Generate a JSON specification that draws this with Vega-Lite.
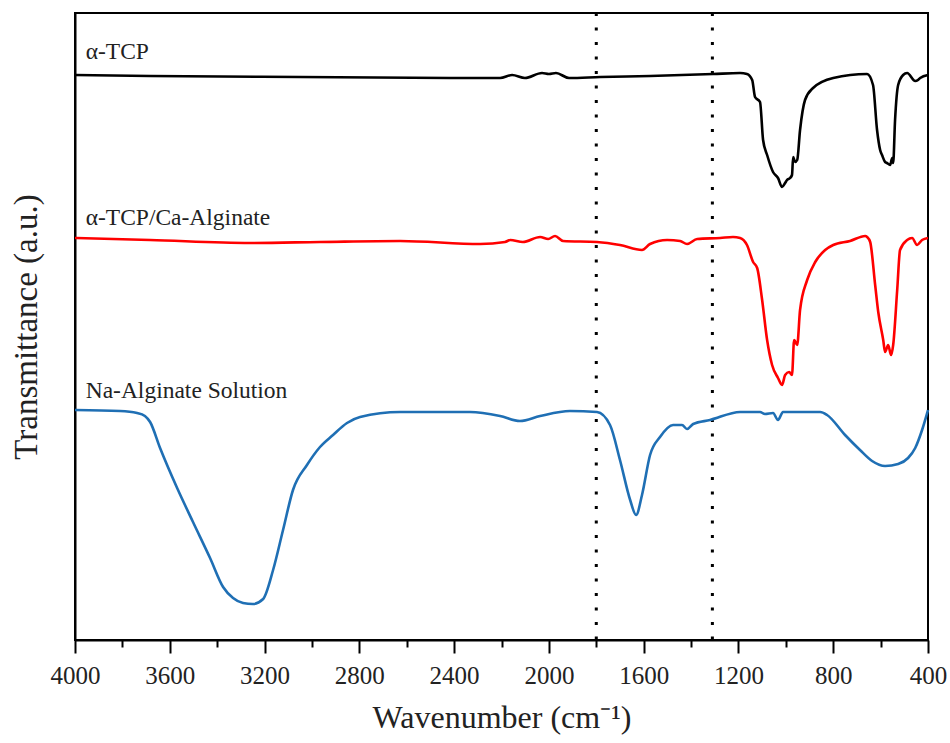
{
  "$schema": "https://vega.github.io/schema/vega-lite/v6.json",
  "width": 853,
  "height": 627,
  "autosize": "none",
  "padding": {"left": 75, "top": 13, "right": 22, "bottom": 103},
  "background": "white",
  "config": {
    "view": {"stroke": "#000", "strokeWidth": 2},
    "axis": {"domainColor": "#000", "domainWidth": 2, "tickColor": "#000", "tickWidth": 2, "grid": false, "labelFont": "Liberation Serif", "titleFont": "Liberation Serif", "labelColor": "#222", "titleColor": "#222", "titleFontWeight": "normal"}
  },
  "resolve": {"axis": {"x": "independent"}},
  "datasets": {
    "curves": [
      {"s": "α-TCP", "w": 4000, "t": 565},
      {"s": "α-TCP", "w": 3683, "t": 564},
      {"s": "α-TCP", "w": 3050, "t": 563},
      {"s": "α-TCP", "w": 2417, "t": 562},
      {"s": "α-TCP", "w": 2206, "t": 562},
      {"s": "α-TCP", "w": 2155, "t": 565},
      {"s": "α-TCP", "w": 2101, "t": 562},
      {"s": "α-TCP", "w": 2029, "t": 567},
      {"s": "α-TCP", "w": 2000, "t": 566},
      {"s": "α-TCP", "w": 1970, "t": 567},
      {"s": "α-TCP", "w": 1915, "t": 562},
      {"s": "α-TCP", "w": 1784, "t": 563},
      {"s": "α-TCP", "w": 1573, "t": 564},
      {"s": "α-TCP", "w": 1307, "t": 566},
      {"s": "α-TCP", "w": 1193, "t": 567},
      {"s": "α-TCP", "w": 1164, "t": 566},
      {"s": "α-TCP", "w": 1142, "t": 560},
      {"s": "α-TCP", "w": 1130, "t": 543},
      {"s": "α-TCP", "w": 1109, "t": 538},
      {"s": "α-TCP", "w": 1096, "t": 500},
      {"s": "α-TCP", "w": 1079, "t": 485},
      {"s": "α-TCP", "w": 1054, "t": 468},
      {"s": "α-TCP", "w": 1033, "t": 462},
      {"s": "α-TCP", "w": 1016, "t": 453},
      {"s": "α-TCP", "w": 1003, "t": 457},
      {"s": "α-TCP", "w": 995, "t": 460},
      {"s": "α-TCP", "w": 982, "t": 462},
      {"s": "α-TCP", "w": 974, "t": 465},
      {"s": "α-TCP", "w": 969, "t": 483},
      {"s": "α-TCP", "w": 961, "t": 478},
      {"s": "α-TCP", "w": 952, "t": 480},
      {"s": "α-TCP", "w": 940, "t": 510},
      {"s": "α-TCP", "w": 919, "t": 540},
      {"s": "α-TCP", "w": 885, "t": 552},
      {"s": "α-TCP", "w": 800, "t": 562},
      {"s": "α-TCP", "w": 657, "t": 566},
      {"s": "α-TCP", "w": 632, "t": 555},
      {"s": "α-TCP", "w": 615, "t": 510},
      {"s": "α-TCP", "w": 602, "t": 490},
      {"s": "α-TCP", "w": 594, "t": 485},
      {"s": "α-TCP", "w": 581, "t": 478},
      {"s": "α-TCP", "w": 573, "t": 477},
      {"s": "α-TCP", "w": 560, "t": 475},
      {"s": "α-TCP", "w": 551, "t": 482},
      {"s": "α-TCP", "w": 547, "t": 477},
      {"s": "α-TCP", "w": 539, "t": 520},
      {"s": "α-TCP", "w": 526, "t": 555},
      {"s": "α-TCP", "w": 505, "t": 565},
      {"s": "α-TCP", "w": 488, "t": 567},
      {"s": "α-TCP", "w": 454, "t": 559},
      {"s": "α-TCP", "w": 442, "t": 560},
      {"s": "α-TCP", "w": 433, "t": 562},
      {"s": "α-TCP", "w": 400, "t": 565},

      {"s": "α-TCP/Ca-Alginate", "w": 4000, "t": 402},
      {"s": "α-TCP/Ca-Alginate", "w": 3683, "t": 400},
      {"s": "α-TCP/Ca-Alginate", "w": 3261, "t": 397},
      {"s": "α-TCP/Ca-Alginate", "w": 2966, "t": 398},
      {"s": "α-TCP/Ca-Alginate", "w": 2628, "t": 399},
      {"s": "α-TCP/Ca-Alginate", "w": 2290, "t": 396},
      {"s": "α-TCP/Ca-Alginate", "w": 2185, "t": 398},
      {"s": "α-TCP/Ca-Alginate", "w": 2163, "t": 400},
      {"s": "α-TCP/Ca-Alginate", "w": 2110, "t": 398},
      {"s": "α-TCP/Ca-Alginate", "w": 2037, "t": 403},
      {"s": "α-TCP/Ca-Alginate", "w": 2003, "t": 401},
      {"s": "α-TCP/Ca-Alginate", "w": 1974, "t": 404},
      {"s": "α-TCP/Ca-Alginate", "w": 1940, "t": 399},
      {"s": "α-TCP/Ca-Alginate", "w": 1797, "t": 398},
      {"s": "α-TCP/Ca-Alginate", "w": 1700, "t": 395},
      {"s": "α-TCP/Ca-Alginate", "w": 1607, "t": 390},
      {"s": "α-TCP/Ca-Alginate", "w": 1573, "t": 396},
      {"s": "α-TCP/Ca-Alginate", "w": 1501, "t": 400},
      {"s": "α-TCP/Ca-Alginate", "w": 1446, "t": 399},
      {"s": "α-TCP/Ca-Alginate", "w": 1417, "t": 396},
      {"s": "α-TCP/Ca-Alginate", "w": 1374, "t": 401},
      {"s": "α-TCP/Ca-Alginate", "w": 1277, "t": 402},
      {"s": "α-TCP/Ca-Alginate", "w": 1223, "t": 403},
      {"s": "α-TCP/Ca-Alginate", "w": 1193, "t": 402},
      {"s": "α-TCP/Ca-Alginate", "w": 1164, "t": 395},
      {"s": "α-TCP/Ca-Alginate", "w": 1138, "t": 378},
      {"s": "α-TCP/Ca-Alginate", "w": 1121, "t": 372},
      {"s": "α-TCP/Ca-Alginate", "w": 1100, "t": 340},
      {"s": "α-TCP/Ca-Alginate", "w": 1079, "t": 300},
      {"s": "α-TCP/Ca-Alginate", "w": 1058, "t": 275},
      {"s": "α-TCP/Ca-Alginate", "w": 1033, "t": 262},
      {"s": "α-TCP/Ca-Alginate", "w": 1016, "t": 255},
      {"s": "α-TCP/Ca-Alginate", "w": 1003, "t": 265},
      {"s": "α-TCP/Ca-Alginate", "w": 986, "t": 268},
      {"s": "α-TCP/Ca-Alginate", "w": 974, "t": 265},
      {"s": "α-TCP/Ca-Alginate", "w": 965, "t": 300},
      {"s": "α-TCP/Ca-Alginate", "w": 952, "t": 295},
      {"s": "α-TCP/Ca-Alginate", "w": 940, "t": 330},
      {"s": "α-TCP/Ca-Alginate", "w": 910, "t": 360},
      {"s": "α-TCP/Ca-Alginate", "w": 876, "t": 378},
      {"s": "α-TCP/Ca-Alginate", "w": 834, "t": 390},
      {"s": "α-TCP/Ca-Alginate", "w": 800, "t": 395},
      {"s": "α-TCP/Ca-Alginate", "w": 729, "t": 399},
      {"s": "α-TCP/Ca-Alginate", "w": 665, "t": 404},
      {"s": "α-TCP/Ca-Alginate", "w": 657, "t": 403},
      {"s": "α-TCP/Ca-Alginate", "w": 644, "t": 398},
      {"s": "α-TCP/Ca-Alginate", "w": 623, "t": 355},
      {"s": "α-TCP/Ca-Alginate", "w": 610, "t": 328},
      {"s": "α-TCP/Ca-Alginate", "w": 589, "t": 300},
      {"s": "α-TCP/Ca-Alginate", "w": 581, "t": 288},
      {"s": "α-TCP/Ca-Alginate", "w": 568, "t": 295},
      {"s": "α-TCP/Ca-Alginate", "w": 556, "t": 285},
      {"s": "α-TCP/Ca-Alginate", "w": 547, "t": 295},
      {"s": "α-TCP/Ca-Alginate", "w": 530, "t": 350},
      {"s": "α-TCP/Ca-Alginate", "w": 518, "t": 390},
      {"s": "α-TCP/Ca-Alginate", "w": 488, "t": 400},
      {"s": "α-TCP/Ca-Alginate", "w": 467, "t": 402},
      {"s": "α-TCP/Ca-Alginate", "w": 446, "t": 395},
      {"s": "α-TCP/Ca-Alginate", "w": 425, "t": 400},
      {"s": "α-TCP/Ca-Alginate", "w": 400, "t": 402},

      {"s": "Na-Alginate Solution", "w": 4000, "t": 230},
      {"s": "Na-Alginate Solution", "w": 3810, "t": 229},
      {"s": "Na-Alginate Solution", "w": 3738, "t": 227},
      {"s": "Na-Alginate Solution", "w": 3705, "t": 224},
      {"s": "Na-Alginate Solution", "w": 3683, "t": 218},
      {"s": "Na-Alginate Solution", "w": 3641, "t": 192},
      {"s": "Na-Alginate Solution", "w": 3569, "t": 152},
      {"s": "Na-Alginate Solution", "w": 3502, "t": 118},
      {"s": "Na-Alginate Solution", "w": 3430, "t": 82},
      {"s": "Na-Alginate Solution", "w": 3375, "t": 53},
      {"s": "Na-Alginate Solution", "w": 3333, "t": 42},
      {"s": "Na-Alginate Solution", "w": 3291, "t": 37},
      {"s": "Na-Alginate Solution", "w": 3249, "t": 36},
      {"s": "Na-Alginate Solution", "w": 3206, "t": 41},
      {"s": "Na-Alginate Solution", "w": 3164, "t": 70},
      {"s": "Na-Alginate Solution", "w": 3122, "t": 110},
      {"s": "Na-Alginate Solution", "w": 3080, "t": 150},
      {"s": "Na-Alginate Solution", "w": 3021, "t": 175},
      {"s": "Na-Alginate Solution", "w": 2966, "t": 193},
      {"s": "Na-Alginate Solution", "w": 2911, "t": 205},
      {"s": "Na-Alginate Solution", "w": 2852, "t": 217},
      {"s": "Na-Alginate Solution", "w": 2797, "t": 223},
      {"s": "Na-Alginate Solution", "w": 2628, "t": 228},
      {"s": "Na-Alginate Solution", "w": 2333, "t": 228},
      {"s": "Na-Alginate Solution", "w": 2206, "t": 224},
      {"s": "Na-Alginate Solution", "w": 2122, "t": 219},
      {"s": "Na-Alginate Solution", "w": 2037, "t": 224},
      {"s": "Na-Alginate Solution", "w": 1911, "t": 229},
      {"s": "Na-Alginate Solution", "w": 1797, "t": 228},
      {"s": "Na-Alginate Solution", "w": 1742, "t": 215},
      {"s": "Na-Alginate Solution", "w": 1700, "t": 180},
      {"s": "Na-Alginate Solution", "w": 1657, "t": 140},
      {"s": "Na-Alginate Solution", "w": 1632, "t": 125},
      {"s": "Na-Alginate Solution", "w": 1607, "t": 145},
      {"s": "Na-Alginate Solution", "w": 1573, "t": 185},
      {"s": "Na-Alginate Solution", "w": 1531, "t": 203},
      {"s": "Na-Alginate Solution", "w": 1476, "t": 215},
      {"s": "Na-Alginate Solution", "w": 1438, "t": 215},
      {"s": "Na-Alginate Solution", "w": 1417, "t": 211},
      {"s": "Na-Alginate Solution", "w": 1391, "t": 216},
      {"s": "Na-Alginate Solution", "w": 1320, "t": 220},
      {"s": "Na-Alginate Solution", "w": 1193, "t": 228},
      {"s": "Na-Alginate Solution", "w": 1109, "t": 228},
      {"s": "Na-Alginate Solution", "w": 1088, "t": 226},
      {"s": "Na-Alginate Solution", "w": 1054, "t": 227},
      {"s": "Na-Alginate Solution", "w": 1033, "t": 220},
      {"s": "Na-Alginate Solution", "w": 1012, "t": 228},
      {"s": "Na-Alginate Solution", "w": 855, "t": 228},
      {"s": "Na-Alginate Solution", "w": 826, "t": 225},
      {"s": "Na-Alginate Solution", "w": 750, "t": 205},
      {"s": "Na-Alginate Solution", "w": 687, "t": 190},
      {"s": "Na-Alginate Solution", "w": 636, "t": 179},
      {"s": "Na-Alginate Solution", "w": 581, "t": 174},
      {"s": "Na-Alginate Solution", "w": 526, "t": 176},
      {"s": "Na-Alginate Solution", "w": 484, "t": 182},
      {"s": "Na-Alginate Solution", "w": 454, "t": 192},
      {"s": "Na-Alginate Solution", "w": 425, "t": 210},
      {"s": "Na-Alginate Solution", "w": 400, "t": 230}
    ],
    "labels": [
      {"label": "α-TCP", "w": 3955, "t": 581},
      {"label": "α-TCP/Ca-Alginate", "w": 3955, "t": 415},
      {"label": "Na-Alginate Solution", "w": 3955, "t": 242}
    ],
    "marks": [
      {"w": 1800},
      {"w": 1310}
    ]
  },
  "layer": [
    {
      "data": {"name": "marks"},
      "mark": {"type": "rule", "color": "#000", "strokeWidth": 3, "strokeDash": [3, 11.5], "strokeCap": "butt"},
      "encoding": {
        "x": {
          "field": "w", "type": "quantitative",
          "scale": {"domain": [400, 4000], "reverse": true, "nice": false, "zero": false},
          "axis": {"orient": "bottom", "title": null, "labels": false, "domain": false, "values": [3800, 3400, 3000, 2600, 2200, 1800, 1400, 1000, 600], "tickSize": 7}
        }
      }
    },
    {
      "data": {"name": "curves"},
      "mark": {"type": "line", "strokeWidth": 2.6, "strokeJoin": "round", "interpolate": "monotone"},
      "encoding": {
        "x": {
          "field": "w", "type": "quantitative",
          "scale": {"domain": [400, 4000], "reverse": true, "nice": false, "zero": false},
          "axis": {
            "orient": "bottom",
            "title": "Wavenumber (cm⁻¹)",
            "titleFontSize": 32,
            "titlePadding": 14,
            "values": [4000, 3600, 3200, 2800, 2400, 2000, 1600, 1200, 800, 400],
            "format": "d",
            "labelFontSize": 25,
            "labelPadding": 10,
            "labelFlush": false,
            "labelOverlap": false,
            "tickSize": 13
          }
        },
        "y": {
          "field": "t", "type": "quantitative",
          "scale": {"domain": [0, 627], "nice": false, "zero": false},
          "axis": {"title": "Transmittance (a.u.)", "titleFontSize": 33, "titlePadding": 32, "labels": false, "ticks": false}
        },
        "color": {
          "field": "s", "type": "nominal",
          "scale": {"domain": ["α-TCP", "α-TCP/Ca-Alginate", "Na-Alginate Solution"], "range": ["#000000", "#ff0000", "#1f6fb4"]},
          "legend": null
        }
      }
    },
    {
      "data": {"name": "labels"},
      "mark": {"type": "text", "align": "left", "baseline": "alphabetic", "font": "Liberation Serif", "fontSize": 23.5, "color": "#222"},
      "encoding": {
        "x": {"field": "w", "type": "quantitative", "axis": null},
        "y": {"field": "t", "type": "quantitative"},
        "text": {"field": "label"}
      }
    }
  ]
}
